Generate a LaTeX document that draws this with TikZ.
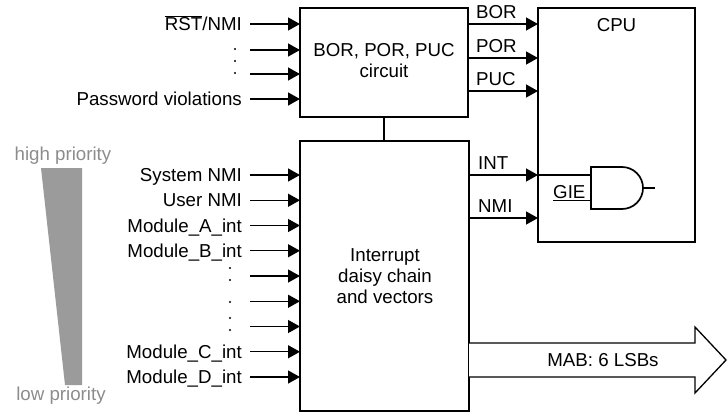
\documentclass[tikz,border=0pt]{standalone}
\usepackage{fontspec}
\setmainfont{Liberation Sans}
\usetikzlibrary{arrows.meta,calc}
\definecolor{wedgegray}{RGB}{155,155,155}
\definecolor{txtgray}{RGB}{140,140,140}
\begin{document}
\begin{tikzpicture}[x=1pt,y=-1pt,
  box/.style={draw, line width=2pt, rectangle, inner sep=0pt, outer sep=0pt, align=center},
  wire/.style={line width=1.3pt},
  sig/.style={wire, -{Triangle[length=12pt,width=13pt]}},
  lbl/.style={inner sep=0pt, font=\fontsize{18.7}{21}\selectfont},
  dotmark/.style={fill=black, circle, inner sep=0pt, minimum size=2.3pt},
  gate/.style={line width=1.7pt, line join=miter},
  ]
\useasboundingbox (0,0) rectangle (727,415);

% boxes
\node[box, minimum width=168pt, minimum height=109pt] (bor) at (384,62.5) {};
\node[lbl, align=center] (bortxt) at (384,61) {BOR, POR, PUC\\circuit};
\node[box, minimum width=169pt, minimum height=270pt] (ib) at (384.5,276) {};
\node[lbl, align=center] (ibtxt) at (385,276) {Interrupt\\daisy chain\\and vectors};
\node[box, minimum width=157pt, minimum height=234pt] (cpu) at (616.5,125) {};
\node[lbl] (cputxt) at (616.5,25) {CPU};

% link between boxes
\draw[wire] (bor.south) -- (bor.south |- ib.north);

% reset inputs
\foreach \y/\name/\txt in {24/r1/{$\overline{\mbox{RST}}$/NMI}, 50/r2/{}, 74/r3/{}, 99/r4/{Password violations}}{
  \coordinate (\name) at (250,\y);
  \draw[sig] (\name) -- (bor.west |- \name);
  \node[lbl, anchor=base east] at (242,\y+6.5) {\txt};
}
\foreach \y in {49,61,73}{ \node[dotmark] at (235,\y) {}; }

% interrupt inputs
\foreach \i/\txt in {0/System NMI, 1/User NMI, 2/Module\_A\_int, 3/Module\_B\_int, 4/{}, 5/{}, 6/{}, 7/Module\_C\_int, 8/Module\_D\_int}{
  \coordinate (in\i) at (250,175+25.25*\i);
  \draw[sig] (in\i) -- (ib.west |- in\i);
  \node[lbl, anchor=base east] at (242,175+25.25*\i+6.5) {\txt};
}
\foreach \y in {268,280,302,318,330}{ \node[dotmark] at (230,\y) {}; }

% outputs to CPU
\foreach \y/\txt in {24/BOR, 58/POR, 91/PUC}{
  \draw[sig] (bor.east |- 0,\y) -- (cpu.west |- 0,\y);
  \node[lbl, anchor=base west] at (476,\y-5.5) {\txt};
}
\draw[sig] (ib.east |- 0,175) -- (cpu.west |- 0,175);
\node[lbl, anchor=base west] at (478,169.5) {INT};
\draw[sig] (ib.east |- 0,218) -- (cpu.west |- 0,218);
\node[lbl, anchor=base west] at (478,212) {NMI};

% AND gate
\coordinate (gA) at (591,175);
\coordinate (gB) at (591,200.5);
\coordinate (gO) at (643,188);
\draw[gate] (591,167) -- (622,167) arc(-90:90:21) -- (591,209) -- cycle;
\draw[wire] (cpu.west |- gA) -- (gA);
\coordinate (gie) at (553,200.5);
\draw[wire] (gie) -- (gB);
\node[lbl, anchor=base west] at (553,198) {GIE};
\coordinate (gout) at (655,188);
\draw[wire] (gO) -- (gout);

% MAB bus arrow
\draw[wire, fill=white, line join=miter] (ib.east |- 0,343) -- (695,343) -- (695,327) -- (726,360) -- (695,393) -- (695,377) -- (ib.east |- 0,377);
\node[lbl] (mab) at (603,360) {MAB: 6 LSBs};

% priority wedge
\fill[wedgegray] (41,168) -- (82,168) -- (82,385) -- (65,385) -- cycle;
\node[lbl, text=txtgray] (hp) at (63,156) {high priority};
\node[lbl, text=txtgray] (lp) at (61,396) {low priority};
\end{tikzpicture}
\end{document}
